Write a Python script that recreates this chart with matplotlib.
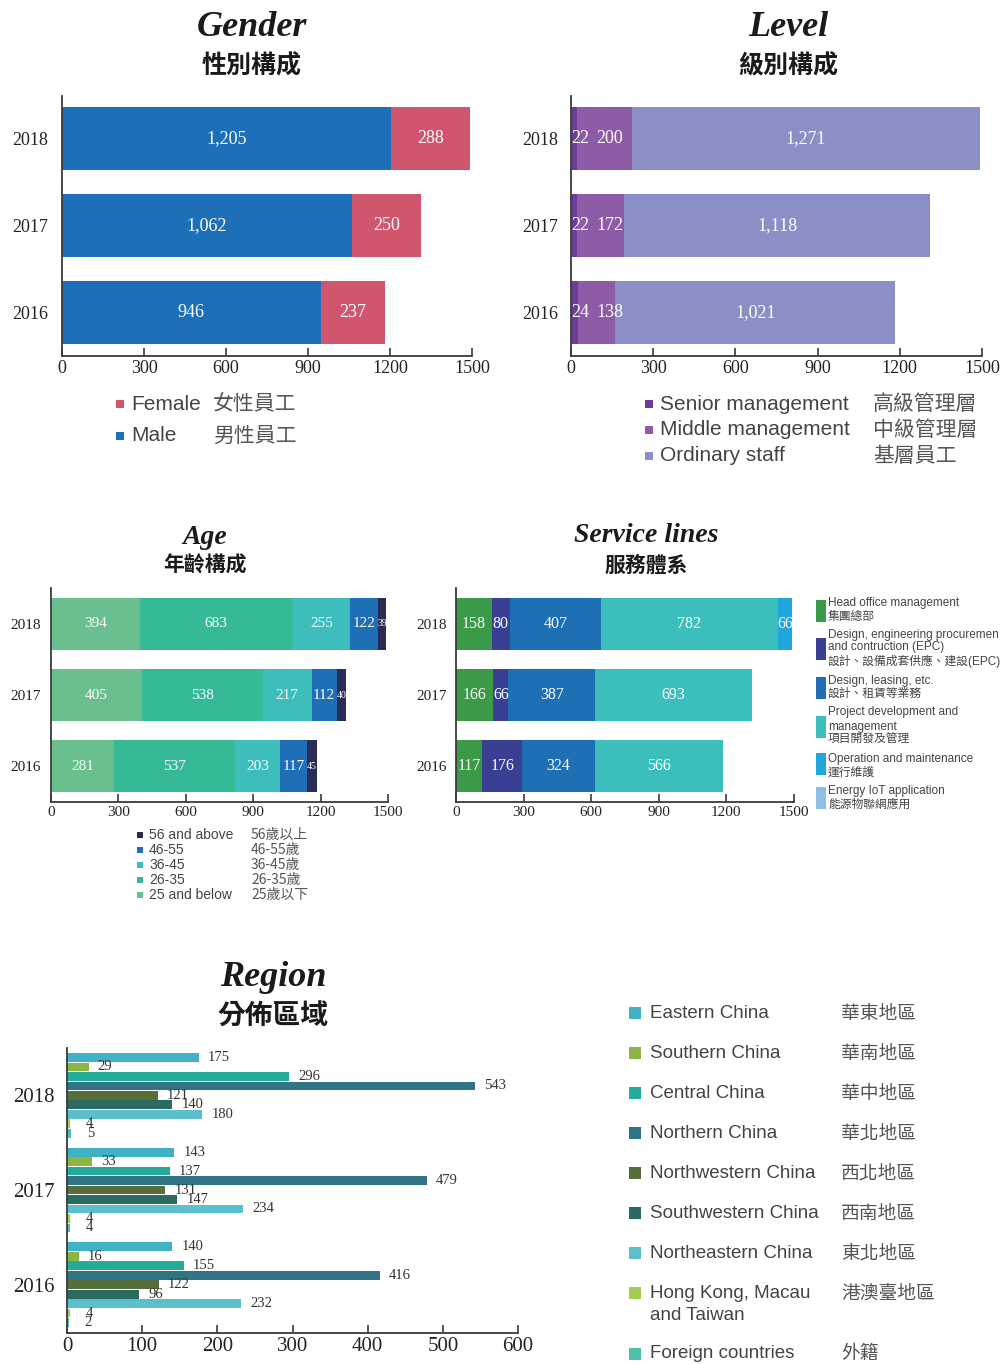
import matplotlib
matplotlib.use('Agg')
import matplotlib.pyplot as plt
from matplotlib.patches import Rectangle

W, H = 1006, 1364
SERIF = 'Liberation Serif'
SANS = ['Liberation Sans', 'Noto Sans CJK TC']
CJK = ['Noto Sans CJK TC', 'DejaVu Sans']
INK = '#3a3a3a'

plt.rcParams['font.family'] = [SERIF, 'Noto Sans CJK TC']

# ---- data (bottom to top: 2016, 2017, 2018) ----
years = ['2016', '2017', '2018']

male = [946, 1062, 1205]
female = [237, 250, 288]

senior = [24, 22, 22]
middle = [138, 172, 200]
ordinary = [1021, 1118, 1271]

age_25_below = [281, 405, 394]
age_26_35 = [537, 538, 683]
age_36_45 = [203, 217, 255]
age_46_55 = [117, 112, 122]
age_56_above = [45, 40, 39]

head_office = [117, 166, 158]
epc = [176, 66, 80]
design_leasing = [324, 387, 407]
project_dev = [566, 693, 782]
operation = [0, 0, 66]
energy_iot = [0, 0, 0]

# region (top to bottom: 2018, 2017, 2016)
region_years = ['2018', '2017', '2016']
eastern = [175, 143, 140]
southern = [29, 33, 16]
central = [296, 137, 155]
northern = [543, 479, 416]
northwestern = [121, 131, 122]
southwestern = [140, 147, 96]
northeastern = [180, 234, 232]
hk_macau_tw = [4, 4, 4]
foreign = [5, 4, 2]

region_en = ['Eastern China', 'Southern China', 'Central China', 'Northern China',
             'Northwestern China', 'Southwestern China', 'Northeastern China',
             'Hong Kong, Macau\nand Taiwan', 'Foreign countries']
region_zh = ['華東地區', '華南地區', '華中地區', '華北地區', '西北地區',
             '西南地區', '東北地區', '港澳臺地區', '外籍']
region_colors = ['#3fb2c6', '#8db543', '#23ad99', '#2f7585', '#586e3a',
                 '#2a6a60', '#5cbfcc', '#a3cd52', '#50c0aa']

fig = plt.figure(figsize=(W / 100, H / 100), dpi=100)


def px_axes(left, top, right, bottom):
    return fig.add_axes([left / W, 1 - bottom / H, (right - left) / W, (bottom - top) / H])


def style(ax, xsize, ysize, ypad):
    ax.spines[['top', 'right']].set_visible(False)
    for s in ['left', 'bottom']:
        ax.spines[s].set_linewidth(1.3)
        ax.spines[s].set_color(INK)
    ax.tick_params(axis='x', direction='in', length=6, width=1.2, color=INK,
                   labelsize=xsize, labelcolor='#222222', pad=3)
    ax.tick_params(axis='y', length=0, labelsize=ysize, labelcolor='#222222', pad=ypad)


def ftext(x, y, s, **kw):
    fig.text(x / W, 1 - y / H, s, **kw)


def square(x, y, w, h, color):
    fig.add_artist(Rectangle((x / W, 1 - (y + h / 2) / H), w / W, h / H,
                             transform=fig.transFigure, color=color, lw=0))


def title(x, y_en, y_zh, en, zh, size_en, size_zh):
    ftext(x, y_en, en, ha='center', va='center', fontsize=size_en,
          fontweight='bold', fontstyle='italic', family=SERIF, color='#1a1a1a')
    ftext(x, y_zh, zh, ha='center', va='center', fontsize=size_zh,
          fontweight='heavy', family=CJK, color='#1a1a1a')


def stacked(ax, series, colors, height, fs, small=()):
    left = [0, 0, 0]
    ypos = range(len(years))
    for i, (vals, c) in enumerate(zip(series, colors)):
        bars = ax.barh(ypos, vals, left=left, height=height, color=c)
        ax.bar_label(bars, labels=[f'{v:,}' if v else '' for v in vals],
                     label_type='center', color='white',
                     fontsize=7 if i in small else fs)
        left = [a + b for a, b in zip(left, vals)]


# ---- Gender ----
ax = px_axes(62, 96, 472, 356)
stacked(ax, [male, female], ['#1d70b7', '#d0566e'], 0.724, 13)
ax.set_xlim(0, 1500)
ax.set_ylim(-0.5, 2.49)
ax.set_xticks(range(0, 1501, 300))
ax.set_yticks(range(3), years)
style(ax, 13, 13, 10)
title(252, 28, 66, 'Gender', '性別構成', 26, 18)
for y, c, en, zh in [(404, '#d0566e', 'Female', '女性員工'), (436, '#1d70b7', 'Male', '男性員工')]:
    square(116, y, 8, 8, c)
    ftext(131, y, en, va='center', fontsize=15, family=SANS, color='#444444')
    ftext(213, y, zh, va='center', fontsize=15, family=CJK, color='#555555')

# ---- Level ----
ax = px_axes(571, 96, 982, 356)
ypos = range(len(years))
ax.barh(ypos, senior, height=0.724, color='#6a3e98')
ax.barh(ypos, middle, left=senior, height=0.724, color='#8e5ba6')
lvl_left = [a + b for a, b in zip(senior, middle)]
bars = ax.barh(ypos, ordinary, left=lvl_left, height=0.724, color='#8a8fc6')
ax.bar_label(bars, labels=[f'{v:,}' for v in ordinary], label_type='center',
             color='white', fontsize=13)
for i in ypos:
    ax.annotate(str(senior[i]), (0, i), xytext=(0, 0), textcoords='offset pixels',
                ha='left', va='center', color='white', fontsize=13)
    ax.annotate(str(middle[i]), (0, i), xytext=(25, 0), textcoords='offset pixels',
                ha='left', va='center', color='white', fontsize=13)
ax.set_xlim(0, 1500)
ax.set_ylim(-0.5, 2.49)
ax.set_xticks(range(0, 1501, 300))
ax.set_yticks(range(3), years)
style(ax, 13, 13, 9)
title(788, 28, 66, 'Level', '級別構成', 26, 18)
for y, c, en, zh in [(404, '#6a3e98', 'Senior management', '高級管理層'),
                     (430, '#8e5ba6', 'Middle management', '中級管理層'),
                     (456, '#8a8fc6', 'Ordinary staff', '基層員工')]:
    square(645, y, 8, 8, c)
    ftext(660, y, en, va='center', fontsize=15, family=SANS, color='#444444')
    ftext(873, y, zh, va='center', fontsize=15, family=CJK, color='#555555')

# ---- Age ----
age_colors = ['#69c08e', '#36b995', '#3dbdbc', '#1f6fb7', '#2a2c55']
ax = px_axes(51, 588, 388, 802)
stacked(ax, [age_25_below, age_26_35, age_36_45, age_46_55, age_56_above],
        age_colors, 0.732, 11, small=(4,))
ax.set_xlim(0, 1500)
ax.set_ylim(-0.507, 2.507)
ax.set_xticks(range(0, 1501, 300))
ax.set_yticks(range(3), years)
style(ax, 11, 11, 7)
title(205, 537, 565, 'Age', '年齡構成', 20, 15)
age_en = ['25 and below', '26-35', '36-45', '46-55', '56 and above']
age_zh = ['25歲以下', '26-35歲', '36-45歲', '46-55歲', '56歲以上']
for k in range(5):
    y = 895 - 15 * k
    square(137, y, 6, 6, age_colors[k])
    ftext(149, y, age_en[k], va='center', fontsize=10, family=SANS, color='#444444')
    ftext(251, y, age_zh[k], va='center', fontsize=10, family=CJK, color='#555555')

# ---- Service lines ----
svc_colors = ['#3a9a48', '#393f93', '#1f6fb4', '#3cbfbc', '#20a5dc', '#8fbfe7']
ax = px_axes(456, 588, 794, 802)
stacked(ax, [head_office, epc, design_leasing, project_dev, operation, energy_iot],
        svc_colors, 0.732, 11.5)
ax.set_xlim(0, 1500)
ax.set_ylim(-0.507, 2.507)
ax.set_xticks(range(0, 1501, 300))
ax.set_yticks(range(3), years)
style(ax, 11, 11, 6.5)
title(646, 535, 565, 'Service lines', '服務體系', 20, 15)
svc_lines = [['Head office management', '集團總部'],
             ['Design, engineering procuremen', 'and contruction (EPC)', '設計、設備成套供應、建設(EPC)'],
             ['Design, leasing, etc.', '設計、租賃等業務'],
             ['Project development and', 'management', '項目開發及管理'],
             ['Operation and maintenance', '運行維護'],
             ['Energy IoT application', '能源物聯網應用']]
svc_square_y = [611, 649, 688, 727, 764, 798]
svc_text_y = [[603, 617], [635, 647, 661], [681, 694], [712, 727, 740], [759, 773], [791, 805]]
for k in range(6):
    square(816, svc_square_y[k], 10, 22, svc_colors[k])
    for line, y in zip(svc_lines[k], svc_text_y[k]):
        ftext(828, y, line, va='center', fontsize=8.5, family=SANS, color='#444444')

# ---- Region ----
ax = px_axes(67, 1048, 518, 1333)
region_series = [eastern, southern, central, northern, northwestern,
                 southwestern, northeastern, hk_macau_tw, foreign]
for j, (vals, c) in enumerate(zip(region_series, region_colors)):
    ys = [i * 10 + j for i in range(len(region_years))]
    ax.barh(ys, vals, height=0.92, color=c)
    for y, v in zip(ys, vals):
        ax.annotate(str(v), (v, y), xytext=(9 if v >= 10 else 16, 0),
                    textcoords='offset pixels', ha='left', va='center',
                    fontsize=10.5, color='#333333')
ax.set_xlim(0, 600)
ax.set_ylim(29.1, -1.0)
ax.set_xticks(range(0, 601, 100))
ax.set_yticks([i * 10 + 4 for i in range(3)], region_years)
style(ax, 15, 15, 9)
title(273, 977, 1017, 'Region', '分佈區域', 26, 20)
region_y = [1013, 1053, 1093, 1133, 1173, 1213, 1253, 1293, 1354]
for k in range(9):
    square(629, region_y[k], 12, 12, region_colors[k])
    for n, line in enumerate(region_en[k].split('\n')):
        ftext(650, region_y[k] + 22 * n, line, va='center', fontsize=13.5,
              family=SANS, color='#444444')
    ftext(841, region_y[k], region_zh[k], va='center', fontsize=13.5,
          family=CJK, color='#555555')

fig.savefig('out.png', dpi=100)
